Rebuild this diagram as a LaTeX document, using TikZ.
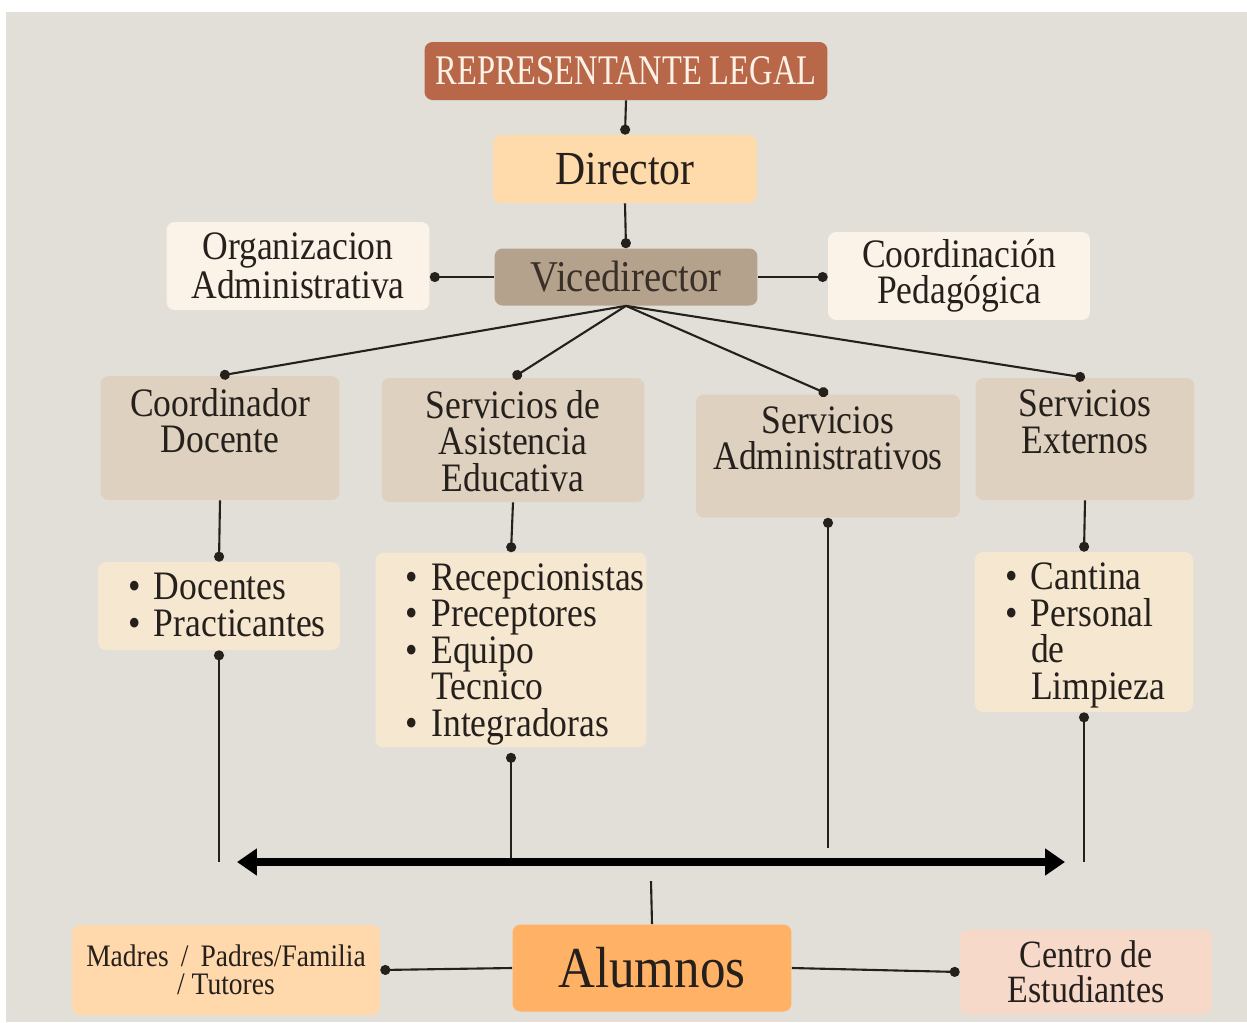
\documentclass[tikz,border=0pt]{standalone}
\usepackage{fontspec}
\setmainfont{Liberation Serif}[FakeStretch=0.88]
\newfontfamily\headfont{Liberation Serif}[FakeStretch=0.77]
\usetikzlibrary{arrows.meta}

\definecolor{paper}{RGB}{226,223,216}
\definecolor{ink}{RGB}{38,32,28}
\definecolor{rlfill}{RGB}{184,104,72}
\definecolor{rltext}{RGB}{253,242,232}
\definecolor{dirfill}{RGB}{255,218,170}
\definecolor{vicefill}{RGB}{180,162,140}
\definecolor{vicetext}{RGB}{58,48,40}
\definecolor{palefill}{RGB}{251,242,232}
\definecolor{tanfill}{RGB}{222,209,192}
\definecolor{creamfill}{RGB}{245,231,208}
\definecolor{alufill}{RGB}{255,178,102}
\definecolor{famfill}{RGB}{255,217,172}
\definecolor{cenfill}{RGB}{247,217,202}

% bullet lines for the lists
\newcommand{\bitem}{\makebox[0.52cm][l]{\textbullet}}
\newcommand{\bcont}{\hspace*{0.52cm}}

\begin{document}
\begin{tikzpicture}[
    x=0.02cm, y=-0.02cm,
    box/.style={rectangle, rounded corners=0.16cm, inner sep=0pt, align=center,
                text=ink, font=\fontsize{23}{20.8}\selectfont},
    unit/.style={box, fill=tanfill},
    lst/.style={box, fill=creamfill},
    toptext/.style={anchor=north, yshift=-0.24cm, inner sep=0pt, align=center,
                    text=ink, font=\fontsize{23}{20.8}\selectfont},
    toplist/.style={anchor=north west, xshift=0.6cm, yshift=-0.22cm, inner sep=0pt,
                    align=left, text=ink, font=\fontsize{23}{20.8}\selectfont},
    plain/.style={draw=ink, line width=1.2pt},
    link/.style={plain, -{Circle[length=0.2cm]}},
    linkup/.style={plain, {Circle[length=0.2cm]}-},
    bar/.style={draw=black, line width=4.6pt,
                {Triangle[length=0.4cm, width=0.52cm]}-{Triangle[length=0.4cm, width=0.52cm]}}
    ]
    \useasboundingbox (0,0) rectangle (1247,1022);
    \fill[white] (0,0) rectangle (1247,1022);
    \fill[paper] (6,12) rectangle (1247,1022);

    % head of the school
    \node[box, fill=rlfill, text=rltext, minimum width=8.06cm, minimum height=1.16cm,
          font=\headfont\fontsize{24}{24}\selectfont] (rl) at (626,71) {REPRESENTANTE LEGAL};
    \node[box, fill=dirfill, minimum width=5.28cm, minimum height=1.36cm,
          font=\fontsize{27}{27}\selectfont] (dir) at (625,169) {Director};
    \node[box, fill=vicefill, text=vicetext, minimum width=5.26cm, minimum height=1.14cm,
          font=\fontsize{25}{25}\selectfont] (vice) at (626,277) {Vicedirector};
    \node[box, fill=palefill, minimum width=5.26cm, minimum height=1.76cm] (orgadm) at (298,266) {Organizacion\\Administrativa};
    \node[box, fill=palefill, minimum width=5.24cm, minimum height=1.76cm] (coordped) at (959,276) {Coordinación\\Pedagógica};

    % areas
    \node[unit, minimum width=4.78cm, minimum height=2.48cm,
          label={[toptext]north:{Coordinador\\Docente}}] (coorddoc) at (220,438) {};
    \node[unit, minimum width=5.26cm, minimum height=2.48cm,
          label={[toptext]north:{Servicios de\\Asistencia\\Educativa}}] (serasis) at (513,440) {};
    \node[unit, minimum width=5.28cm, minimum height=2.46cm,
          label={[toptext]north:{Servicios\\Administrativos}}] (seradm) at (828,456) {};
    \node[unit, minimum width=4.38cm, minimum height=2.44cm,
          label={[toptext]north:{Servicios\\Externos}}] (serext) at (1085,439) {};

    % staff lists
    \node[lst, minimum width=4.84cm, minimum height=1.76cm,
          label={[toplist]north west:{\bitem Docentes\\\bitem Practicantes}}] (listdoc) at (219,606) {};
    \node[lst, minimum width=5.42cm, minimum height=3.9cm,
          label={[toplist]north west:{\bitem Recepcionistas\\\bitem Preceptores\\\bitem Equipo\\\bcont Tecnico\\\bitem Integradoras}}] (listasis) at (511,650) {};
    \node[lst, minimum width=4.36cm, minimum height=3.2cm,
          label={[toplist]north west:{\bitem Cantina\\\bitem Personal\\\bcont de\\\bcont Limpieza}}] (listext) at (1084,632) {};

    % students row
    \node[box, fill=alufill, minimum width=5.58cm, minimum height=1.74cm,
          font=\fontsize{33}{33}\selectfont] (alumnos) at (652,968) {Alumnos};
    \node[box, fill=famfill, minimum width=6.16cm, minimum height=1.8cm,
          font=\fontsize{17.8}{16.2}\selectfont] (familia) at (226,970) {Madres \,/\, Padres/Familia\\/ Tutores};
    \node[box, fill=cenfill, minimum width=5.04cm, minimum height=1.7cm,
          font=\fontsize{22}{20}\selectfont] (centro) at (1086,972) {Centro de\\Estudiantes};

    \coordinate (bar-l) at (237,862);
    \coordinate (bar-r) at (1065,862);
    \coordinate (bar-stop) at (828,848);
    \coordinate (alu-in) at (651,881);

    % connectors
    \draw[link] (rl.south) -- (dir.north);
    \draw[link] (dir.south) -- (vice.north);
    \draw[link] (vice.west) -- (vice.west -| orgadm.east);
    \draw[link] (vice.east) -- (vice.east -| coordped.west);
    \foreach \n in {coorddoc, serasis, seradm, serext}
        \draw[link] (vice.south) -- (\n.north);
    \draw[link] (coorddoc.south) -- (listdoc.north);
    \draw[link] (serasis.south) -- (listasis.north);
    \draw[link] (serext.south) -- (listext.north);

    % down to the bar
    \draw[linkup] (listdoc.south) -- (listdoc.south |- bar-l);
    \draw[linkup, shorten <=0.1cm] (listasis.south) -- (listasis.south |- bar-l);
    \draw[linkup] (seradm.south) -- (bar-stop);
    \draw[linkup] (listext.south) -- (listext.south |- bar-l);
    \draw[bar] (bar-l) -- (bar-r);

    \draw[plain] (alu-in) -- (alumnos.north);
    \draw[link] (alumnos.west) -- (familia.east);
    \draw[link] (alumnos.east) -- (centro.west);
\end{tikzpicture}
\end{document}
